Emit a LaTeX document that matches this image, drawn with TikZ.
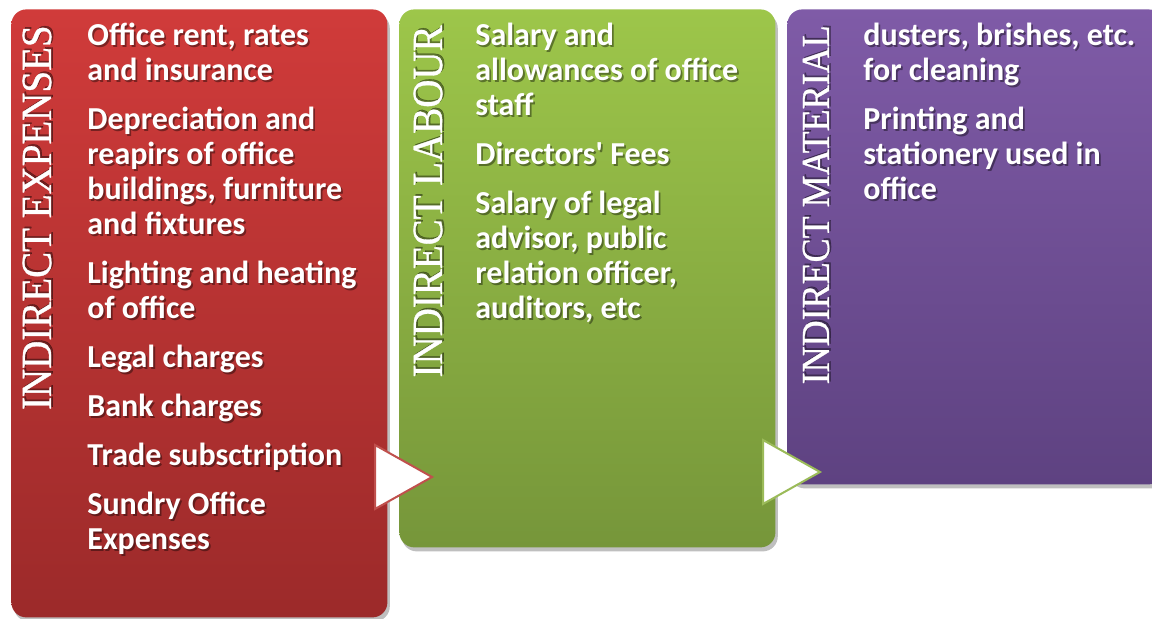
\documentclass[tikz,border=0pt]{standalone}
\usepackage{fontspec}
\setmainfont{Liberation Serif}
\setsansfont{Carlito}
\newfontfamily\titlefont[FakeBold=0.8]{Liberation Serif}
\usetikzlibrary{positioning,shadows}

\definecolor{redtop}{HTML}{D03B3A}
\definecolor{redbot}{HTML}{9C2A2A}
\definecolor{greentop}{HTML}{9DC64A}
\definecolor{greenbot}{HTML}{76963A}
\definecolor{purptop}{HTML}{7F5BA7}
\definecolor{purpbot}{HTML}{5E4281}
\definecolor{redline}{HTML}{C0504D}
\definecolor{greenline}{HTML}{9BBB59}

\tikzset{
  panel/.style={rectangle, rounded corners=7.5pt, anchor=north west, inner sep=0pt,
    minimum width=188pt, drop shadow={shadow xshift=1.2pt, shadow yshift=-2pt, opacity=0.25, fill=black}},
  paneltitle/.style={rotate=90, anchor=east, inner sep=0pt, text=white},
  itemtext/.style={anchor=north west, inner sep=0pt, align=left, text=white,
    font=\sffamily\bfseries\fontsize{16}{17.5}\selectfont},
  textshadow/.style={text=black, opacity=0.4, xshift=0.9pt, yshift=-0.9pt},
  arrowtri/.style={fill=white, line width=1pt}
}

\newcommand\tallcaps[1]{\scalebox{1}[1.1]{#1}}
\newcommand\expenselist{Office rent, rates\\and insurance\\[7pt]
Depreciation and\\reapirs of office\\buildings, furniture\\and fixtures\\[7pt]
Lighting and heating\\of office\\[7pt]
Legal charges\\[7pt]
Bank charges\\[7pt]
Trade subsctription\\[7pt]
Sundry Office\\Expenses}
\newcommand\labourlist{Salary and\\allowances of office\\staff\\[7pt]
Directors\textquotesingle{} Fees\\[7pt]
Salary of legal\\advisor, public\\relation officer,\\auditors, etc}
\newcommand\materiallist{dusters, brishes, etc.\\for cleaning\\[7pt]
Printing and\\stationery used in\\office}

\begin{document}
\begin{tikzpicture}[x=0.5pt, y=-0.5pt]
  \useasboundingbox (0,0) rectangle (1152,619);
  \fill[white] (0,0) rectangle (1152,619);

  %Three panels
  \node[panel, minimum height=304pt, top color=redtop, bottom color=redbot] (redbox) at (11,9) {};
  \node[panel, minimum height=269pt, top color=greentop, bottom color=greenbot] (greenbox) at (399,9) {};
  \node[panel, minimum height=237.5pt, top color=purptop, bottom color=purpbot] (purplebox) at (787,9) {};

  %Panel titles
  \node[paneltitle, textshadow, font=\titlefont\fontsize{19.5}{20}\selectfont] at (37,25) {\tallcaps{INDIRECT EXPENSES}};
  \node[paneltitle, font=\titlefont\fontsize{19.5}{20}\selectfont] (redtitle) at (37,25) {\tallcaps{INDIRECT EXPENSES}};
  \node[paneltitle, textshadow, font=\titlefont\fontsize{19.5}{20}\selectfont] at (428,25) {\tallcaps{INDIRECT LABOUR}};
  \node[paneltitle, font=\titlefont\fontsize{19.5}{20}\selectfont] (greentitle) at (428,25) {\tallcaps{INDIRECT LABOUR}};
  \node[paneltitle, textshadow, font=\titlefont\fontsize{18}{20}\selectfont] at (816,25) {\tallcaps{INDIRECT MATERIAL}};
  \node[paneltitle, font=\titlefont\fontsize{18}{20}\selectfont] (purpletitle) at (816,25) {\tallcaps{INDIRECT MATERIAL}};

  %Panel items
  \node[itemtext, textshadow] at (87,23) {\expenselist};
  \node[itemtext] (redlist) at (87,23) {\expenselist};
  \node[itemtext, textshadow] at (475,23) {\labourlist};
  \node[itemtext] (greenlist) at (475,23) {\labourlist};
  \node[itemtext, textshadow] at (863,23) {\materiallist};
  \node[itemtext] (purplelist) at (863,23) {\materiallist};

  %Arrows between panels
  \draw[arrowtri, draw=redline] (375,445) -- (432,477) -- (375,509) -- cycle;
  \draw[arrowtri, draw=greenline] (763,440) -- (820,472) -- (763,504) -- cycle;
\end{tikzpicture}
\end{document}
